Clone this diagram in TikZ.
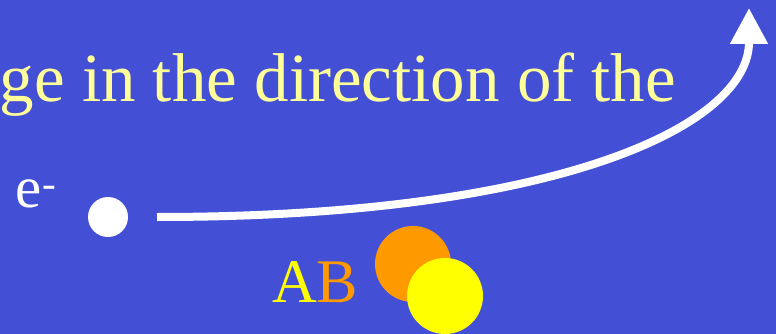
\documentclass[tikz,border=0pt]{standalone}
\usepackage{fontspec}
\setmainfont{Liberation Serif}
\usetikzlibrary{arrows.meta}
\definecolor{bg}{RGB}{67,79,213}
\definecolor{paleyel}{RGB}{255,255,153}
\definecolor{orng}{RGB}{255,153,0}
\definecolor{yel}{RGB}{255,255,0}
\tikzset{
  lbl/.style={inner sep=0pt, outer sep=0pt, anchor=base west},
  ball/.style={circle, inner sep=0pt, draw=none},
}
\begin{document}
\begin{tikzpicture}[x=1pt,y=-1pt]
\fill[bg] (0,0) rectangle (776,334);
\useasboundingbox (0,0) rectangle (776,334);
\node[lbl, anchor=base east, text=paleyel, font=\fontsize{69}{73}\selectfont] (title) at (676,102) {ge in the direction of the};
\node[lbl, text=white, font=\fontsize{59}{64}\selectfont] (elabel) at (16,207) {e\textsuperscript{-}};
\node[ball, fill=white, minimum size=40pt] (electron) at (108,217) {};
\coordinate (start) at (157,217);
\coordinate (tip) at (749,8);
\draw[white, line width=8pt, -{Triangle[width=36pt,length=36pt]}] (start) .. controls (560,217) and (749,125) .. (tip);
\node[lbl, font=\fontsize{62}{66}\selectfont] (ab) at (272,302) {\textcolor{yel}{A}\textcolor{orng}{B}};
\node[ball, fill=orng, minimum size=76pt] (ballA) at (413,264) {};
\node[ball, fill=yel, minimum size=76pt] (ballB) at (445,296) {};
\end{tikzpicture}
\end{document}
